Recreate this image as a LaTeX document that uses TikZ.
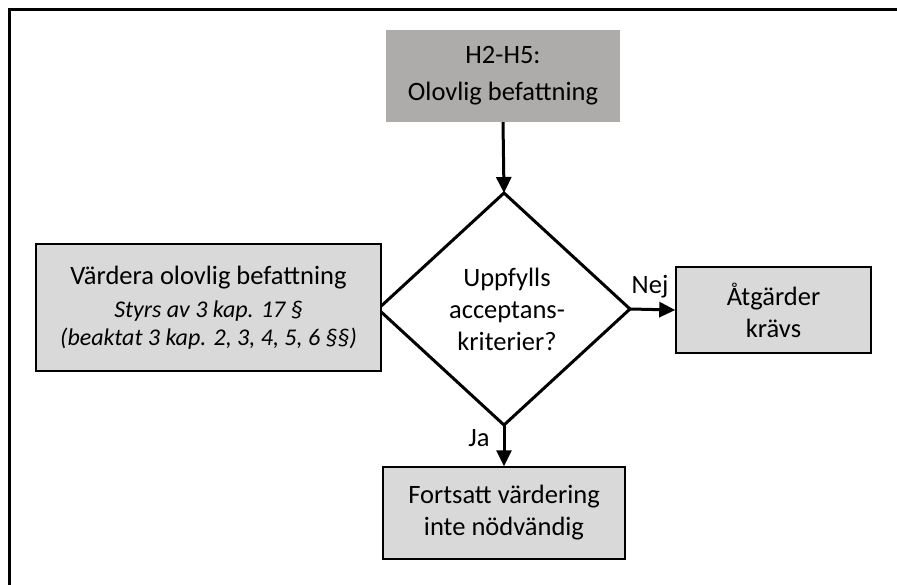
\documentclass[tikz,border=0pt]{standalone}
\usepackage{fontspec}
\setmainfont{Carlito}
\usetikzlibrary{shapes.geometric,arrows.meta}
\definecolor{headgray}{HTML}{AEABAB}
\definecolor{boxgray}{HTML}{D9D9D9}
\tikzset{
  frameline/.style={line width=2.6pt},
  headbox/.style={rectangle, fill=headgray, inner sep=0pt, align=center,
    font=\fontsize{26.5}{34}\selectfont},
  stepbox/.style={rectangle, draw, fill=boxgray, line width=1.5pt, inner sep=0pt,
    align=center, font=\fontsize{26.5}{32}\selectfont},
  decision/.style={diamond, draw, line width=3pt, inner sep=0pt, outer sep=0pt},
  dectext/.style={align=center, font=\fontsize{26.5}{32}\selectfont},
  arr/.style={line width=3pt, -{Triangle[width=15pt,length=16pt]}},
  lbl/.style={font=\fontsize{26.5}{28}\selectfont, inner sep=0pt}
}
\begin{document}
\begin{tikzpicture}[x=1pt,y=-1pt]
\useasboundingbox (0,0) rectangle (897,585);
% frame (open at right and bottom)
\draw[frameline] (9.5,585) -- (9.5,9.5) -- (897,9.5);

% nodes
\node[headbox, minimum width=234pt, minimum height=92pt] (top) at (503,76)
  {H2-H5:\\[3pt]Olovlig befattning};
\node[decision, minimum width=252pt, minimum height=232pt] (dec) at (504,309) {};
\node[dectext] (dectxt) at (507,309) {Uppfylls\\acceptans-\\kriterier?};
\node[stepbox, minimum width=345pt, minimum height=127pt,
      font=\fontsize{24}{28}\selectfont] (left) at (208.5,307.5)
  {{\fontsize{26.5}{28}\selectfont V\"ardera olovlig befattning}\\[5pt]
   {\itshape Styrs av 3 kap. 17 \S}\\
   {\itshape (beaktat 3 kap. 2, 3, 4, 5, 6 \S\S)}};
\node[stepbox, minimum width=195pt, minimum height=86pt] (right) at (773.5,310)
  {\AA tg\"arder\\kr\"avs};
\node[stepbox, minimum width=242pt, minimum height=92pt] (bottom) at (504,513)
  {Fortsatt v\"ardering\\inte n\"odv\"andig};

% connectors
\draw[arr] (top.south) -- (dec.north);
\draw[arr] (dec.east) -- (right.west);
\draw[arr] (dec.south) -- (bottom.north);

% branch labels
\node[lbl] (nej) at (650,287) {Nej};
\node[lbl] (ja) at (479,438) {Ja};
\end{tikzpicture}
\end{document}
